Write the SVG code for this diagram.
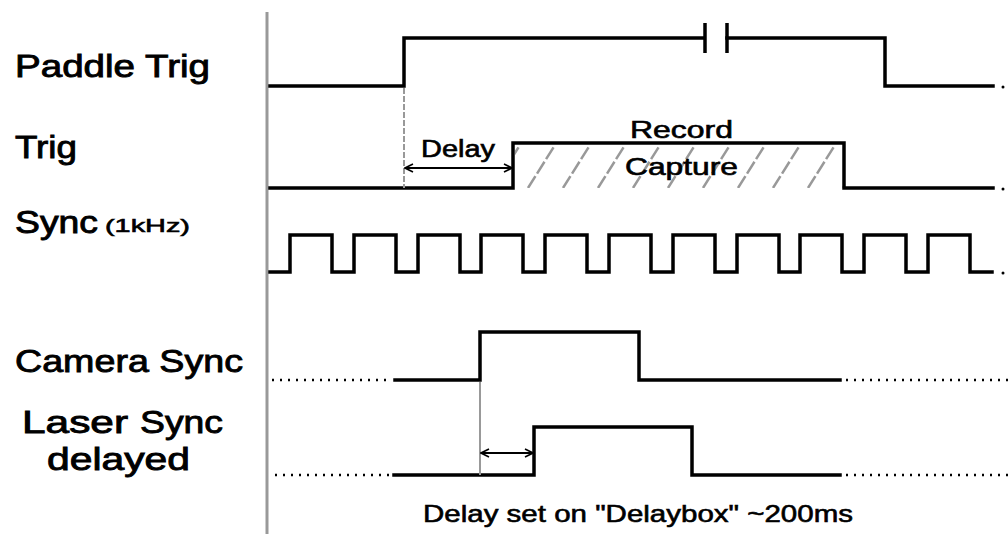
<svg xmlns="http://www.w3.org/2000/svg" width="1008" height="534" viewBox="0 0 1008 534">
<style>
.sig{fill:none;stroke:#000;stroke-width:3.5;stroke-linejoin:miter;stroke-linecap:square}
.dot{fill:none;stroke:#000;stroke-width:2.5;stroke-dasharray:2 6}
.lbl{font-family:"Liberation Sans",Arial,sans-serif;fill:#000;stroke:#000;stroke-width:0.9;font-size:32px}
.sm{font-family:"Liberation Sans",Arial,sans-serif;fill:#000;stroke:#000;stroke-width:0.6}
.guide{stroke:#999;stroke-width:2;fill:none}
.arr{stroke:#000;stroke-width:2;fill:none;marker-start:url(#ah);marker-end:url(#ah)}
.hatch{stroke:#999;stroke-width:2.5;stroke-dasharray:14 3}
</style>
<defs>
<marker id="ah" viewBox="0 0 10 10" refX="9" refY="5" markerWidth="10" markerHeight="10" markerUnits="userSpaceOnUse" orient="auto-start-reverse">
<path d="M1,1 L9,5 L1,9" fill="none" stroke="#000" stroke-width="1.6"/>
</marker>
<clipPath id="hc"><rect x="515" y="145" width="328" height="43"/></clipPath>
</defs>
<rect width="1008" height="534" fill="#fff"/>
<line x1="267" y1="12" x2="267" y2="534" stroke="#999" stroke-width="3"/>

<g id="labels">
<text class="lbl" x="15" y="77" textLength="195" lengthAdjust="spacingAndGlyphs">Paddle Trig</text>
<text class="lbl" x="15" y="158" textLength="62" lengthAdjust="spacingAndGlyphs">Trig</text>
<text class="lbl" x="15" y="233" textLength="83" lengthAdjust="spacingAndGlyphs">Sync</text>
<text class="sm" x="105" y="232" font-size="19" textLength="85" lengthAdjust="spacingAndGlyphs">(1kHz)</text>
<text class="lbl" x="15" y="372" textLength="228" lengthAdjust="spacingAndGlyphs">Camera Sync</text>
<text class="lbl" x="22" y="433" textLength="106" lengthAdjust="spacingAndGlyphs">Laser</text>
<text class="lbl" x="140" y="433" textLength="83" lengthAdjust="spacingAndGlyphs">Sync</text>
<text class="lbl" x="47" y="470" textLength="143" lengthAdjust="spacingAndGlyphs">delayed</text>
</g>

<g id="paddle-trig">
<path class="sig" d="M270,86 H404 V38 H703"/>
<path class="sig" d="M727,38 H885 V86 H993"/>
<line x1="705" y1="23" x2="705" y2="53" stroke="#000" stroke-width="3.5"/>
<line x1="727" y1="23" x2="727" y2="53" stroke="#000" stroke-width="3.5"/>
<circle cx="1003" cy="87" r="1.5" fill="#000"/>
</g>

<g id="trig">
<g clip-path="url(#hc)">
<line class="hatch" x1="493" y1="188" x2="520" y2="145"/>
<line class="hatch" x1="528" y1="188" x2="555" y2="145"/>
<line class="hatch" x1="563" y1="188" x2="590" y2="145"/>
<line class="hatch" x1="598" y1="188" x2="625" y2="145"/>
<line class="hatch" x1="633" y1="188" x2="660" y2="145"/>
<line class="hatch" x1="668" y1="188" x2="695" y2="145"/>
<line class="hatch" x1="703" y1="188" x2="730" y2="145"/>
<line class="hatch" x1="738" y1="188" x2="765" y2="145"/>
<line class="hatch" x1="773" y1="188" x2="800" y2="145"/>
<line class="hatch" x1="808" y1="188" x2="835" y2="145"/>
<line class="hatch" x1="843" y1="188" x2="870" y2="145"/>
</g>
<path class="sig" d="M270,188 H513 V143 H844 V188 H993"/>
<circle cx="1003" cy="189" r="1.5" fill="#000"/>
<text class="sm" x="421" y="157" font-size="23" textLength="74" lengthAdjust="spacingAndGlyphs">Delay</text>
<text class="sm" x="630" y="138" font-size="23" textLength="103" lengthAdjust="spacingAndGlyphs">Record</text>
<text class="sm" x="625" y="175" font-size="23" textLength="113" lengthAdjust="spacingAndGlyphs">Capture</text>
</g>

<g id="sync">
<path class="sig" d="M270,272 H290 V235 H332 V272 H354 V235 H396 V272 H418 V235 H460 V272 H481 V235 H523 V272 H545 V235 H587 V272 H609 V235 H651 V272 H673 V235 H715 V272 H737 V235 H779 V272 H800 V235 H842 V272 H864 V235 H906 V272 H928 V235 H970 V272 H992"/>
<circle cx="1003" cy="273" r="1.5" fill="#000"/>
</g>

<g id="camera-sync">
<line class="dot" x1="272" y1="380" x2="392" y2="380"/>
<path class="sig" d="M395,380 H480 V332 H639 V380 H840"/>
<line class="dot" x1="846" y1="380" x2="1008" y2="380"/>
</g>

<g id="laser-sync">
<line class="dot" x1="275" y1="475" x2="391" y2="475"/>
<path class="sig" d="M394,475 H534 V427 H692 V475 H840"/>
<line class="dot" x1="846" y1="475" x2="1008" y2="475"/>
<text class="sm" x="423" y="522" font-size="24" textLength="430" lengthAdjust="spacingAndGlyphs">Delay set on "Delaybox" ~200ms</text>
</g>

<g id="connectors">
<line class="guide" x1="404" y1="88" x2="404" y2="188" stroke-dasharray="6 2"/>
<line class="guide" x1="480" y1="382" x2="480" y2="475"/>
<line class="arr" x1="405" y1="168" x2="512" y2="168"/>
<line class="arr" x1="481" y1="453" x2="533" y2="453"/>
</g>
</svg>
